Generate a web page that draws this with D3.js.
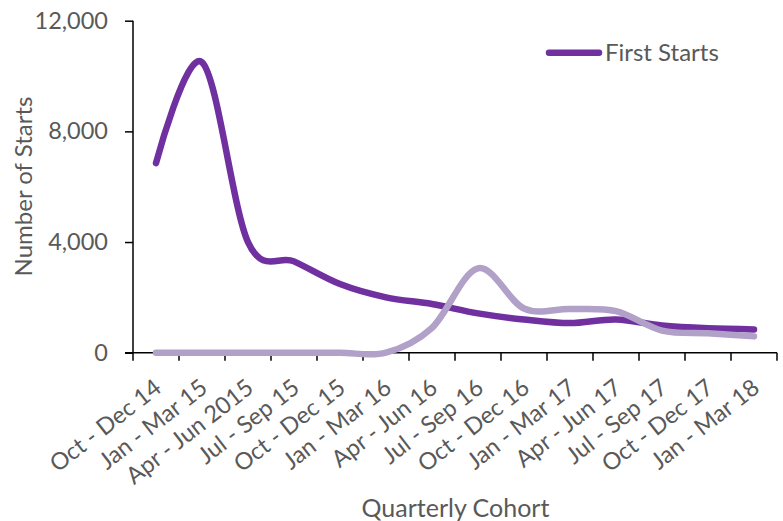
<!DOCTYPE html>
<html>
<head>
<meta charset="utf-8">
<script src="https://cdn.jsdelivr.net/npm/d3@7"></script>
<style>
  html, body { margin: 0; padding: 0; background: #ffffff; }
  svg { display: block; }
  text { font-family: Lato, "Open Sans", sans-serif; fill: #595959; }
</style>
</head>
<body>
<svg id="chart" width="783" height="521"></svg>
<script>
// Quarterly cohorts along the x axis
const quarters = [
  "Oct - Dec 14", "Jan - Mar 15", "Apr - Jun 2015", "Jul - Sep 15",
  "Oct - Dec 15", "Jan - Mar 16", "Apr - Jun 16", "Jul - Sep 16",
  "Oct - Dec 16", "Jan - Mar 17", "Apr - Jun 17", "Jul - Sep 17",
  "Oct - Dec 17", "Jan - Mar 18"
];

// Number of first starts per cohort
const firstStarts = [6850, 10500, 4000, 3300, 2480, 2000, 1760, 1420, 1200, 1070, 1200, 980, 880, 840];

// Second series (not shown in the legend)
const otherStarts = [0, 0, 0, 0, 0, 0, 900, 3050, 1600, 1580, 1500, 800, 700, 590];

const yTicks = [0, 4000, 8000, 12000];

const svg = d3.select("#chart");
const plotLeft = 133, plotRight = 777, plotTop = 20.7, plotBottom = 352.7;

const x = d3.scaleBand().domain(quarters).range([plotLeft, plotRight]).paddingInner(0).paddingOuter(0);
const y = d3.scaleLinear().domain([0, 12000]).range([plotBottom, plotTop]);
const cx = d => x(d) + x.bandwidth() / 2;

// y axis
const yAxis = svg.append("g").attr("transform", `translate(${plotLeft},0)`)
  .call(d3.axisLeft(y).tickValues(yTicks).tickSize(8).tickPadding(17)
    .tickFormat(d3.format(",")));
yAxis.select(".domain").attr("stroke", "#000").attr("stroke-width", 1.5).attr("d", `M0,${plotTop}V${plotBottom}`);
yAxis.selectAll(".tick line").attr("stroke", "#000").attr("stroke-width", 1.5);
yAxis.selectAll(".tick text").attr("font-size", 23.5).attr("fill", "#595959")
  .style("font-family", "Lato, 'Open Sans', sans-serif");

// x axis: ticks on the category boundaries
const boundaries = quarters.map(q => x(q)).concat([plotRight]);
const xAxisG = svg.append("g");
xAxisG.append("line").attr("x1", plotLeft - 8).attr("x2", plotRight).attr("y1", plotBottom).attr("y2", plotBottom)
  .attr("stroke", "#000").attr("stroke-width", 1.5);
xAxisG.selectAll("line.tk").data(boundaries).join("line").attr("class", "tk")
  .attr("x1", d => d).attr("x2", d => d).attr("y1", plotBottom).attr("y2", plotBottom + 8)
  .attr("stroke", "#000").attr("stroke-width", 1.5);

// slanted category labels, right end under each category
xAxisG.selectAll("text.ql").data(quarters).join("text").attr("class", "ql")
  .attr("transform", d => `translate(${cx(d) + 7},${plotBottom + 38}) rotate(-38)`)
  .attr("text-anchor", "end")
  .attr("font-size", 23.5).text(d => d);

// axis titles
svg.append("text").attr("x", 455.5).attr("y", 516.5)
  .attr("text-anchor", "middle").attr("font-size", 25).text("Quarterly Cohort");
svg.append("text").attr("transform", `translate(32,186.5) rotate(-90)`)
  .attr("text-anchor", "middle").attr("font-size", 24).text("Number of Starts");

// smoothed lines
const line = d3.line().x((d, i) => cx(quarters[i])).y(d => y(d)).curve(d3.curveCardinal.tension(0));

const drawSeries = (data, color) => svg.append("path").datum(data).attr("d", line)
  .attr("fill", "none").attr("stroke", color).attr("stroke-width", 6.5)
  .attr("stroke-linecap", "round").attr("stroke-linejoin", "round");

drawSeries(firstStarts, "#7030A0");
drawSeries(otherStarts, "#B1A0C7");

// legend
const lg = svg.append("g");
lg.append("line").attr("x1", 549).attr("x2", 599).attr("y1", 52.7).attr("y2", 52.7)
  .attr("stroke", "#7030A0").attr("stroke-width", 6.5).attr("stroke-linecap", "round");
lg.append("text").attr("x", 605).attr("y", 61)
  .attr("font-size", 24).text("First Starts");
</script>
</body>
</html>
